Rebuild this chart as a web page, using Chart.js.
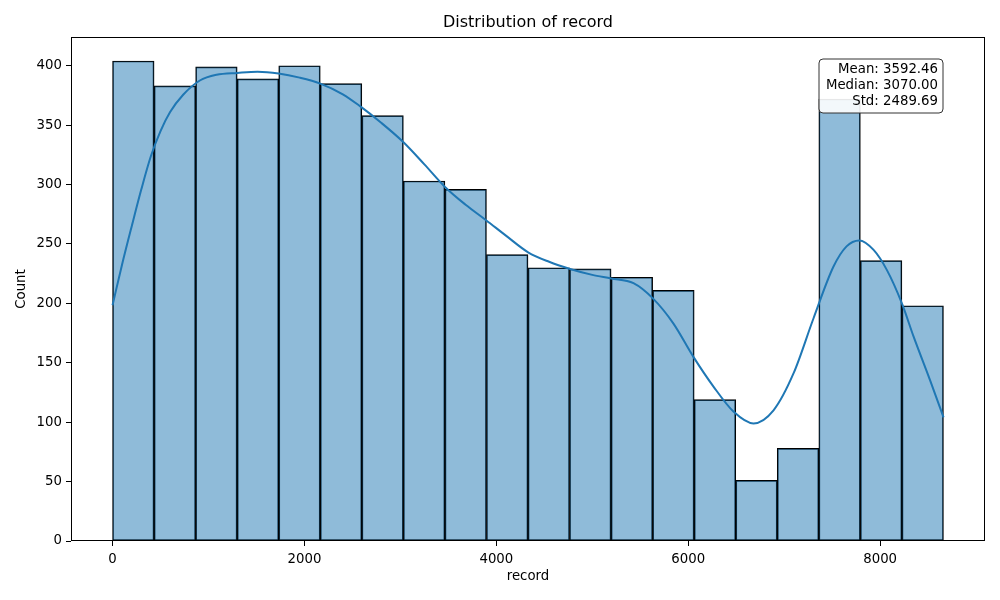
<!DOCTYPE html>
<html>
<head>
<meta charset="utf-8">
<script src="https://cdn.jsdelivr.net/npm/chart.js@4/dist/chart.umd.min.js"></script>
<style>
  html, body { margin: 0; padding: 0; background: #fff; }
  #wrap { width: 1000px; height: 600px; }
</style>
</head>
<body>
<div id="wrap"><canvas id="histChart" width="1000" height="600"></canvas></div>
<script>
// histogram bins (edges) and counts
const binEdges = [0, 433, 866, 1299, 1732, 2165, 2598, 3031, 3464, 3897, 4330,
                  4763, 5196, 5629, 6062, 6495, 6928, 7361, 7794, 8227, 8660];
const counts = [404, 383, 399, 389, 400, 385, 358, 303, 296, 241,
                230, 229, 222, 211, 119, 51, 78, 372, 236, 198];

// KDE curve samples (x in record units, y in count units)
const kdeX = [0, 100, 200, 300, 400, 500, 600, 736, 910, 1084, 1303, 1512, 1731, 1950,
              2165, 2400, 2579, 2800, 3027, 3250, 3465, 3680, 3893, 4100, 4331,
              4550, 4769, 5000, 5196, 5429, 5634, 5846, 6054, 6263, 6471, 6680,
              6889, 7097, 7306, 7514, 7650, 7782, 7932, 8071, 8227, 8349, 8522, 8661];
const kdeY = [198.5, 233, 265, 296, 324, 345, 361, 375.6, 387.6, 392.4, 394, 395, 393.5, 390,
              385, 376, 366, 352, 336, 317, 298, 283, 270, 257, 243,
              235, 229, 224, 221, 217, 204, 183, 155, 130, 109, 99,
              110, 141, 187.5, 231, 248, 253, 245, 228, 200, 172, 135, 104];

const xTicks = [0, 2000, 4000, 6000, 8000];
const yTicks = [0, 50, 100, 150, 200, 250, 300, 350, 400];
const statsLines = ['Mean: 3592.46', 'Median: 3070.00', 'Std: 2489.69'];
const titleText = 'Distribution of record';

const FONT = 'DejaVu Sans';

const barPoints = counts.map((c, i) => ({ x: (binEdges[i] + binEdges[i + 1]) / 2, y: c }));
const kdePoints = kdeX.map((x, i) => ({ x: x, y: kdeY[i] }));

// matplotlib-like 5% margins
const span = binEdges[binEdges.length - 1] - binEdges[0];
const xMin = binEdges[0] - span * 0.05;
const xMax = binEdges[binEdges.length - 1] + span * 0.05;
const yMax = Math.max(...counts) * 1.05;

// frame, title and stats box
const decorPlugin = {
    id: 'decor',
    afterDraw(chart) {
        const { ctx, chartArea: a } = chart;
        ctx.save();
        ctx.strokeStyle = '#000';
        ctx.lineWidth = 1;
        ctx.strokeRect(a.left + 0.5, a.top + 0.5, a.right - a.left - 1, a.bottom - a.top - 1);

        ctx.fillStyle = '#000';
        ctx.font = '16px "' + FONT + '"';
        ctx.textAlign = 'center';
        ctx.textBaseline = 'middle';
        ctx.fillText(titleText, (a.left + a.right) / 2, 23);

        // stats box
        const bx = a.right - 166, by = a.top + 22, bw = 124, bh = 54, r = 4;
        ctx.beginPath();
        ctx.moveTo(bx + r, by);
        ctx.arcTo(bx + bw, by, bx + bw, by + bh, r);
        ctx.arcTo(bx + bw, by + bh, bx, by + bh, r);
        ctx.arcTo(bx, by + bh, bx, by, r);
        ctx.arcTo(bx, by, bx + bw, by, r);
        ctx.closePath();
        ctx.fillStyle = 'rgba(255,255,255,0.9)';
        ctx.fill();
        ctx.strokeStyle = '#333';
        ctx.stroke();

        ctx.fillStyle = '#000';
        ctx.font = '13.3px "' + FONT + '"';
        ctx.textAlign = 'right';
        statsLines.forEach((t, i) => ctx.fillText(t, bx + bw - 5, by + 11 + i * 16));
        ctx.restore();
    }
};

new Chart(document.getElementById('histChart'), {
    type: 'scatter',
    data: {
        datasets: [
            {
                type: 'line',
                label: 'KDE',
                data: kdePoints,
                borderColor: '#1f77b4',
                borderWidth: 2,
                pointRadius: 0,
                showLine: true,
                fill: false,
                cubicInterpolationMode: 'monotone',
                order: 0
            },
            {
                type: 'bar',
                label: 'Count',
                data: barPoints,
                backgroundColor: 'rgba(31,119,180,0.5)',
                borderColor: '#000',
                borderWidth: 1,
                borderSkipped: false,
                barPercentage: 1,
                categoryPercentage: 1,
                order: 1
            }
        ]
    },
    options: {
        responsive: false,
        animation: false,
        devicePixelRatio: 1,
        layout: { padding: { top: 37, right: 15, bottom: 0, left: 0 } },
        plugins: {
            legend: { display: false },
            tooltip: { enabled: false }
        },
        scales: {
            x: {
                type: 'linear',
                min: xMin,
                max: xMax,
                offset: false,
                afterBuildTicks: (s) => { s.ticks = xTicks.map(v => ({ value: v })); },
                afterFit: (s) => { s.height = 59; },
                grid: { offset: false, drawOnChartArea: false, drawTicks: true, tickLength: 5, tickColor: '#000' },
                border: { display: false },
                ticks: {
                    padding: 6,
                    color: '#000',
                    maxRotation: 0,
                    autoSkip: false,
                    font: { family: FONT, size: 13.3 },
                    callback: (v) => String(v)
                },
                title: {
                    display: true,
                    text: 'record',
                    color: '#000',
                    font: { family: FONT, size: 13.3 },
                    padding: { top: 0, bottom: 15 }
                }
            },
            y: {
                type: 'linear',
                min: 0,
                max: yMax,
                afterBuildTicks: (s) => { s.ticks = yTicks.map(v => ({ value: v })); },
                afterFit: (s) => { s.width = 71; },
                grid: { drawOnChartArea: false, drawTicks: true, tickLength: 5, tickColor: '#000' },
                border: { display: false },
                ticks: {
                    padding: 4,
                    color: '#000',
                    autoSkip: false,
                    font: { family: FONT, size: 13.3 },
                    callback: (v) => String(v)
                },
                title: {
                    display: true,
                    text: 'Count',
                    color: '#000',
                    font: { family: FONT, size: 13.3 },
                    padding: { top: 14, bottom: 0 }
                }
            }
        }
    },
    plugins: [decorPlugin]
});
</script>
</body>
</html>
